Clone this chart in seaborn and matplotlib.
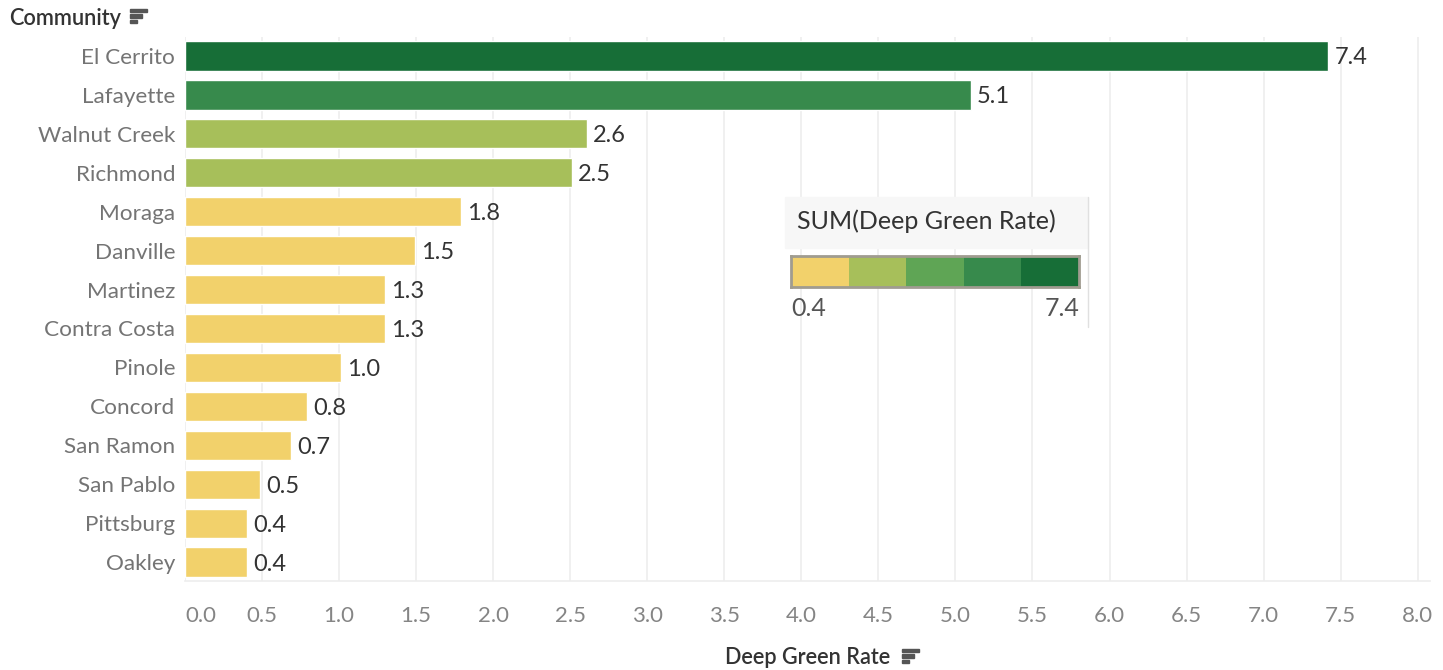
import numpy as np
import pandas as pd
import matplotlib
matplotlib.use("Agg")
import matplotlib.pyplot as plt
import seaborn as sns
from matplotlib.colors import ListedColormap
from matplotlib.patches import Rectangle

communities = ['El Cerrito', 'Lafayette', 'Walnut Creek', 'Richmond', 'Moraga', 'Danville',
               'Martinez', 'Contra Costa', 'Pinole', 'Concord', 'San Ramon', 'San Pablo',
               'Pittsburg', 'Oakley']
rates = [7.42, 5.10, 2.61, 2.51, 1.79, 1.49, 1.30, 1.30, 1.01, 0.79, 0.69, 0.49, 0.40, 0.40]
step_colors = ['#F2D16B', '#A7BF5A', '#5FA555', '#378A4C', '#176E37']

df = pd.DataFrame({'community': communities, 'rate': rates})

# stepped colour: 5 equal bins between min and max
edges = np.linspace(df.rate.min(), df.rate.max(), len(step_colors) + 1)
bins = np.clip(np.digitize(df.rate, edges[1:-1]), 0, len(step_colors) - 1)
bar_colors = [step_colors[b] for b in bins]

sns.set_theme(style='white')
plt.rcParams['font.family'] = ['Lato', 'DejaVu Sans']

fig = plt.figure(figsize=(14.43, 6.70), dpi=100)
ax = fig.add_axes([0.1282, 0.1321, 0.8628, 0.8134])

sns.barplot(data=df, x='rate', y='community', hue='community', palette=bar_colors,
            legend=False, width=0.75, saturation=1, ax=ax, orient='h')

ax.set_xlim(0, 8.08)
ax.set_ylim(13.5, -0.5)
ax.set_xticks(np.arange(0, 8.01, 0.5))
ax.set_xticklabels([f'{t:.1f}' for t in np.arange(0, 8.01, 0.5)])
ax.xaxis.grid(True, color='#EDEDED', linewidth=1.2)
ax.set_axisbelow(True)
for s in ['top', 'right', 'left']:
    ax.spines[s].set_visible(False)
ax.spines['bottom'].set_color('#EDEDED')
ax.spines['bottom'].set_linewidth(1.2)
ax.tick_params(axis='x', length=9, color='#EDEDED', width=1.2, labelsize=16,
               labelcolor='#858585', pad=9)
ax.tick_params(axis='y', length=0, labelsize=16.2, labelcolor='#747474', pad=7)
ax.get_xticklabels()[0].set_horizontalalignment('left')
ax.set_xlabel('')
ax.set_ylabel('')

for i, v in enumerate(df.rate):
    ax.text(v + 0.04, i, f'{v:.1f}', va='center_baseline', ha='left', fontsize=17,
            color='#333333')

# headers
fig.text(0.006, 0.972, 'Community', fontsize=15.7, color='#333333', fontweight='semibold',
         va='center', ha='left')
fig.text(725 / 1443, 0.018, 'Deep Green Rate', fontsize=15.6, color='#333333',
         fontweight='semibold', va='center', ha='left')

def sort_icon(x, y):
    for k, w in enumerate([17, 12, 7]):
        fig.patches.append(Rectangle((x / 1443, 1 - (y + k * 5.5) / 670), w / 1443, 3.2 / 670,
                                     transform=fig.transFigure, color='#555555'))

sort_icon(130, 12)
sort_icon(902, 652)

# colour legend
fig.patches.append(Rectangle((785 / 1443, 1 - 248 / 670), 303 / 1443, 51 / 670,
                             transform=fig.transFigure, color='#F7F7F7', zorder=0))
fig.add_artist(plt.Line2D([1088 / 1443, 1088 / 1443], [1 - 197 / 670, 1 - 327 / 670],
                          color='#E0E0E0', linewidth=1, transform=fig.transFigure))
fig.text(797 / 1443, 1 - 221 / 670, 'SUM(Deep Green Rate)', fontsize=18, color='#333333',
         va='center', ha='left')
cax = fig.add_axes([791 / 1443, 1 - 287 / 670, 288 / 1443, 31 / 670])
cax.imshow(np.arange(len(step_colors))[None, :], aspect='auto',
           cmap=ListedColormap(step_colors), extent=[0, len(step_colors), 0, 1])
cax.set_xticks([])
cax.set_yticks([])
for s in cax.spines.values():
    s.set_color('#A09C90')
    s.set_linewidth(2)
fig.text(791 / 1443, 1 - 309 / 670, f'{df.rate.min():.1f}', fontsize=18, color='#555555',
         va='center', ha='left')
fig.text(1079 / 1443, 1 - 309 / 670, f'{df.rate.max():.1f}', fontsize=18, color='#555555',
         va='center', ha='right')

fig.savefig('out.png', dpi=100)
